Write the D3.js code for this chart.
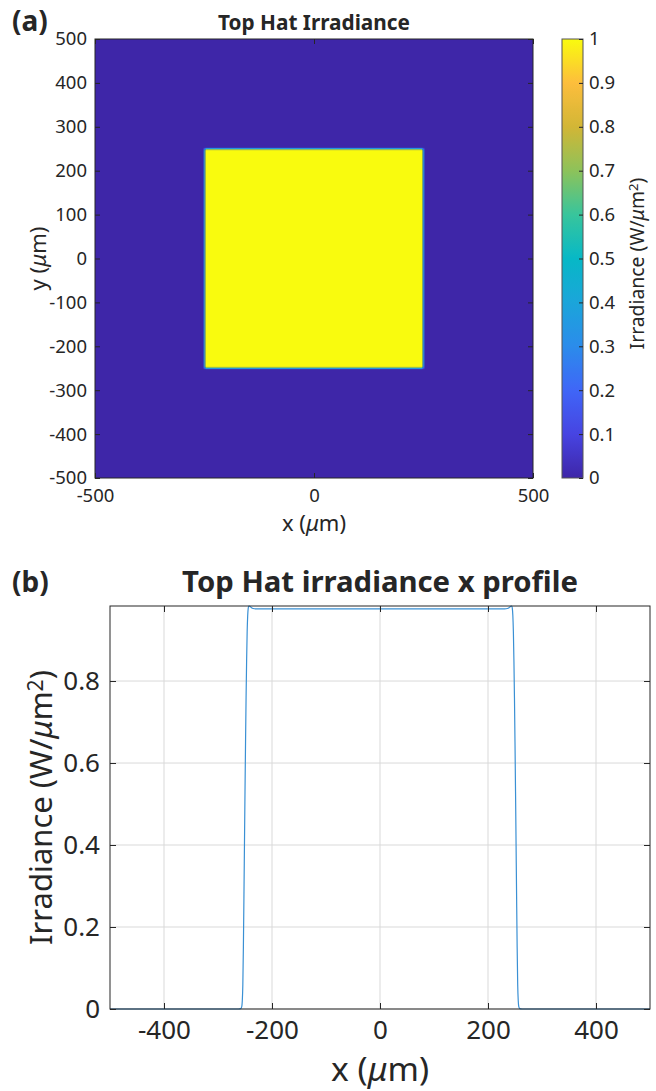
<!DOCTYPE html>
<html><head><meta charset="utf-8">
<script src="https://cdn.jsdelivr.net/npm/d3@7"></script>
<style>
body{margin:0;background:#fff}
svg{display:block}
text{font-family:"Noto Sans","Open Sans",sans-serif;fill:#262626}
</style>
</head><body><svg id="c" width="656" height="1091"></svg>
<script>
// ---------- data ----------
const mapTicksY = [-500,-400,-300,-200,-100,0,100,200,300,400,500];
const mapTicksX = [-500,0,500];
const mapBins = [-500,-252,-249.5,-247,247,249.5,252,500];
const mapValues = [
  [0,0,0,0,0,0,0],
  [0,0.12,0.25,0.35,0.25,0.12,0],
  [0,0.25,0.49,0.70,0.49,0.25,0],
  [0,0.35,0.70,1.00,0.70,0.35,0],
  [0,0.25,0.49,0.70,0.49,0.25,0],
  [0,0.12,0.25,0.35,0.25,0.12,0],
  [0,0,0,0,0,0,0]
];
const cbTicks = [0,0.1,0.2,0.3,0.4,0.5,0.6,0.7,0.8,0.9,1];
const parulaStops = [0,0.1,0.2,0.3,0.4,0.5,0.6,0.7,0.8,0.9,1];
const parulaColors = ["#3e26a8","#4744e2","#3f66f7","#2b8ceb","#1ba5da","#07b8c6","#38c59c","#8dc25a","#d2b636","#fdbe3c","#f9fb0e"];

const profX = [-500,-400,-300,-262,-258,-256,-255,-254,-253,-252,-251,-250,-249,-248,-247,-246,-245,-244,-243,-242,-240,-238,-235,-230,-200,0,
  200,231,236,239,241,243,244,245,246,247,248,249,250,251,252,253,254,255,256,257,259,263,300,400,500];
const profY = [0,0,0,0,0.001,0.006,0.02,0.06,0.15,0.27,0.40,0.53,0.65,0.76,0.85,0.92,0.96,0.978,0.983,0.983,0.981,0.979,0.977,0.976,0.976,0.976,
  0.976,0.976,0.977,0.979,0.981,0.983,0.983,0.978,0.96,0.92,0.85,0.76,0.65,0.53,0.40,0.27,0.15,0.06,0.02,0.006,0.001,0,0,0,0];
const profTicksX = [-400,-200,0,200,400];
const profTicksY = [0,0.2,0.4,0.6,0.8];

// ---------- setup ----------
const svg = d3.select("#c");
const ink = "#262626";
const parula = d3.scaleLinear().domain(parulaStops).range(parulaColors).interpolate(d3.interpolateRgb).clamp(true);
const numFmt = d => d3.format("~g")(d).replace("−","-");
function fit(sel, target){
  const w = sel.node().getComputedTextLength();
  const fs = parseFloat(sel.style("font-size"));
  sel.style("font-size", (fs*target/w).toFixed(2)+"px");
}
function styleAxis(g, fs){
  g.select(".domain").remove();
  g.selectAll("line").attr("stroke", ink);
  g.selectAll("text").attr("fill", ink).style("font-family",'"Noto Sans","Open Sans",sans-serif').style("font-size", fs+"px");
}
function unitLabel(t, pre, sup){
  t.append("tspan").text(pre);
  t.append("tspan").style("font-style","italic").text("μ");
  t.append("tspan").text("m");
  if (sup) {
    t.append("tspan").attr("dy","-0.45em").style("font-size","0.68em").text("2");
    t.append("tspan").attr("dy","0.31em").text(")");
  } else t.append("tspan").text(")");
}

// ================= Panel (a) =================
const A = {l:95, r:533, t:39, b:478};
const ax = d3.scaleLinear().domain([-500,500]).range([A.l, A.r]);
const ay = d3.scaleLinear().domain([-500,500]).range([A.b, A.t]);
const ga = svg.append("g");

ga.append("rect").attr("x",A.l).attr("y",A.t).attr("width",A.r-A.l).attr("height",A.b-A.t).attr("fill",parula(0));
for (let j = 0; j < mapBins.length-1; j++) {
  for (let i = 0; i < mapBins.length-1; i++) {
    if (mapValues[j][i] === 0) continue;
    ga.append("rect")
      .attr("x", ax(mapBins[i]))
      .attr("y", ay(mapBins[j+1]))
      .attr("width", ax(mapBins[i+1]) - ax(mapBins[i]))
      .attr("height", ay(mapBins[j]) - ay(mapBins[j+1]))
      .attr("fill", parula(mapValues[j][i]));
  }
}
ga.append("g").attr("transform",`translate(${A.l},0)`)
  .call(d3.axisLeft(ay).tickValues(mapTicksY).tickSize(-5).tickPadding(8).tickSizeOuter(0).tickFormat(numFmt))
  .call(styleAxis, 18.5);
ga.append("g").attr("transform",`translate(${A.r},0)`)
  .call(d3.axisRight(ay).tickValues(mapTicksY).tickSize(-5).tickFormat("").tickSizeOuter(0)).call(styleAxis, 18.5);
ga.append("g").attr("transform",`translate(0,${A.b})`)
  .call(d3.axisBottom(ax).tickValues(mapTicksX).tickSize(-5).tickPadding(11).tickSizeOuter(0).tickFormat(numFmt))
  .call(styleAxis, 18.5);
ga.append("g").attr("transform",`translate(0,${A.t})`)
  .call(d3.axisTop(ax).tickValues(mapTicksX).tickSize(-5).tickFormat("").tickSizeOuter(0)).call(styleAxis, 18.5);
ga.append("rect").attr("x",A.l).attr("y",A.t).attr("width",A.r-A.l).attr("height",A.b-A.t)
  .attr("fill","none").attr("stroke",ink).attr("stroke-width",1);

const ta = ga.append("text").attr("x",(A.l+A.r)/2).attr("y",30).attr("text-anchor","middle")
  .style("font-size","20px").style("font-weight","bold").text("Top Hat Irradiance");
fit(ta, 192);
svg.append("text").attr("x",12).attr("y",31).style("font-size","28px").style("font-weight","bold").attr("fill","#000").text("(a)");
const xla = ga.append("text").attr("x",(A.l+A.r)/2).attr("y",531).attr("text-anchor","middle").style("font-size","20px");
unitLabel(xla, "x (", false); fit(xla, 64);
const yla = ga.append("text").attr("transform",`translate(46,${(A.t+A.b)/2}) rotate(-90)`).attr("text-anchor","middle").style("font-size","20px");
unitLabel(yla, "y (", false); fit(yla, 64);

// colorbar
const C = {l:562, r:583, t:39, b:478};
const cy = d3.scaleLinear().domain([0,1]).range([C.b, C.t]);
const defs = svg.append("defs");
const grad = defs.append("linearGradient").attr("id","cbg").attr("x1",0).attr("y1",1).attr("x2",0).attr("y2",0);
d3.range(0,1.0001,0.02).forEach(v => grad.append("stop").attr("offset",v).attr("stop-color",parula(v)));
svg.append("rect").attr("x",C.l).attr("y",C.t).attr("width",C.r-C.l).attr("height",C.b-C.t)
  .attr("fill","url(#cbg)").attr("stroke","#555").attr("stroke-width",1);
svg.append("g").attr("transform",`translate(${C.r},0)`)
  .call(d3.axisRight(cy).tickValues(cbTicks).tickSize(-4).tickPadding(6).tickSizeOuter(0).tickFormat(numFmt))
  .call(styleAxis, 18.5);
const cbl = svg.append("text").attr("transform",`translate(644,${(C.t+C.b)/2 + 5}) rotate(-90)`).attr("text-anchor","middle").style("font-size","17px");
unitLabel(cbl, "Irradiance (W/", true); fit(cbl, 172);

// ================= Panel (b) =================
const B = {l:110, r:650, t:606, b:1009};
const bx = d3.scaleLinear().domain([-500,500]).range([B.l, B.r]);
const by = d3.scaleLinear().domain([0,0.983]).range([B.b, B.t]);
const gb = svg.append("g");
gb.append("g").selectAll("line").data(profTicksX).join("line")
  .attr("x1",d=>bx(d)).attr("x2",d=>bx(d)).attr("y1",B.t).attr("y2",B.b).attr("stroke","#d9d9d9").attr("stroke-width",1);
gb.append("g").selectAll("line").data(profTicksY).join("line")
  .attr("x1",B.l).attr("x2",B.r).attr("y1",d=>by(d)).attr("y2",d=>by(d)).attr("stroke","#d9d9d9").attr("stroke-width",1);
defs.append("clipPath").attr("id","clipb").append("rect").attr("x",B.l).attr("y",B.t-1).attr("width",B.r-B.l).attr("height",B.b-B.t+2);
const line = d3.line().x((d,i)=>bx(profX[i])).y((d,i)=>by(profY[i])).curve(d3.curveMonotoneX);
gb.append("path").datum(profY).attr("d",line).attr("fill","none").attr("stroke","#3a90d4").attr("stroke-width",1.2).attr("clip-path","url(#clipb)");
gb.append("g").attr("transform",`translate(${B.l},0)`)
  .call(d3.axisLeft(by).tickValues(profTicksY).tickSize(-6).tickPadding(10).tickSizeOuter(0).tickFormat(numFmt))
  .call(styleAxis, 26);
gb.append("g").attr("transform",`translate(${B.r},0)`)
  .call(d3.axisRight(by).tickValues(profTicksY).tickSize(-6).tickFormat("").tickSizeOuter(0)).call(styleAxis, 26);
gb.append("g").attr("transform",`translate(0,${B.b})`)
  .call(d3.axisBottom(bx).tickValues(profTicksX).tickSize(-6).tickPadding(12).tickSizeOuter(0).tickFormat(numFmt))
  .call(styleAxis, 26);
gb.append("g").attr("transform",`translate(0,${B.t})`)
  .call(d3.axisTop(bx).tickValues(profTicksX).tickSize(-6).tickFormat("").tickSizeOuter(0)).call(styleAxis, 26);
gb.append("rect").attr("x",B.l).attr("y",B.t).attr("width",B.r-B.l).attr("height",B.b-B.t)
  .attr("fill","none").attr("stroke",ink).attr("stroke-width",1);

const tb = gb.append("text").attr("x",(B.l+B.r)/2).attr("y",592).attr("text-anchor","middle")
  .style("font-size","28px").style("font-weight","bold").text("Top Hat irradiance x profile");
fit(tb, 396);
svg.append("text").attr("x",12).attr("y",592).style("font-size","28px").style("font-weight","bold").attr("fill","#000").text("(b)");
const xlb = gb.append("text").attr("x",(B.l+B.r)/2).attr("y",1081).attr("text-anchor","middle").style("font-size","28px");
unitLabel(xlb, "x (", false); fit(xlb, 98);
const ylb = gb.append("text").attr("transform",`translate(52,${(B.t+B.b)/2}) rotate(-90)`).attr("text-anchor","middle").style("font-size","28px");
unitLabel(ylb, "Irradiance (W/", true); fit(ylb, 275);
</script>
</body></html>
